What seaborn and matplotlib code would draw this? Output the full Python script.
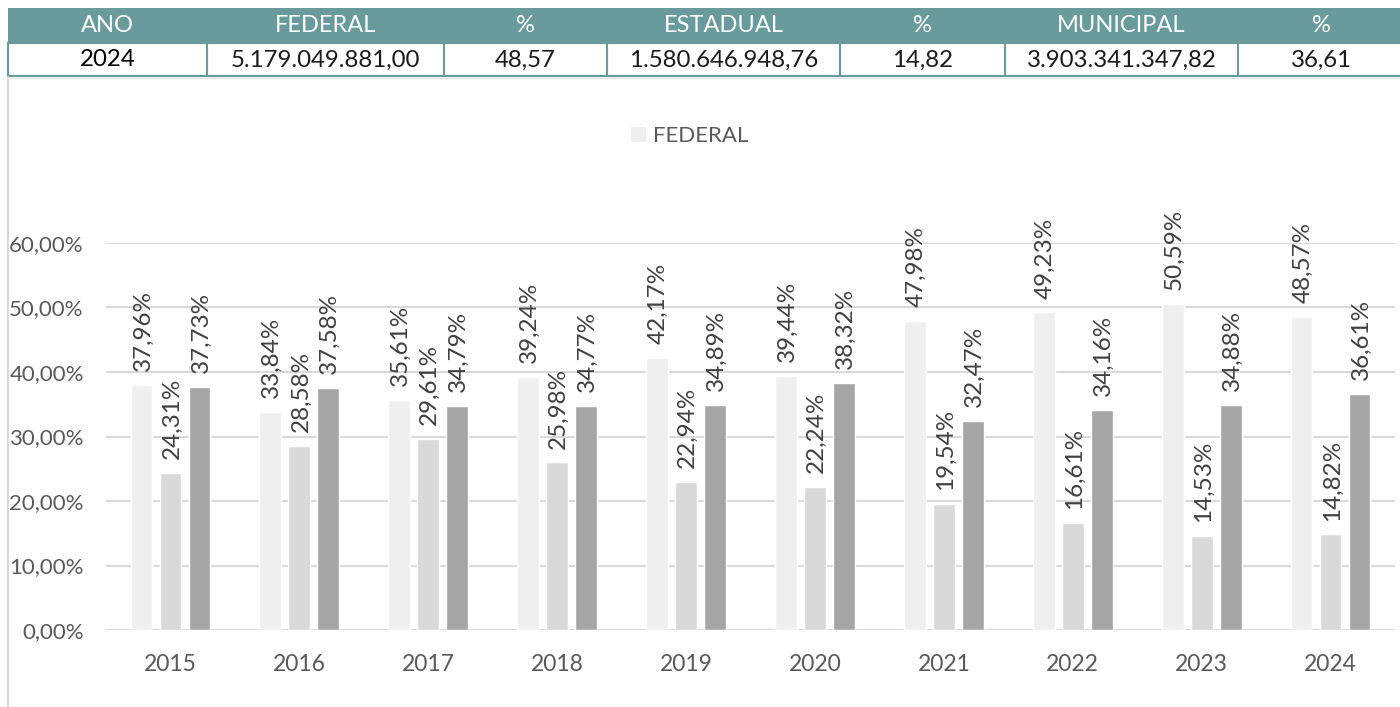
import numpy as np
import pandas as pd
import matplotlib
matplotlib.use("Agg")
import matplotlib.pyplot as plt
from matplotlib.patches import Rectangle, Patch
from matplotlib.lines import Line2D
from matplotlib.ticker import FuncFormatter, MultipleLocator
import seaborn as sns

sns.set_theme(style="white")
plt.rcParams['font.family'] = ['Lato', 'DejaVu Sans']

# Data
anos = ['2015', '2016', '2017', '2018', '2019', '2020', '2021', '2022', '2023', '2024']
federal = [37.96, 33.84, 35.61, 39.24, 42.17, 39.44, 47.98, 49.23, 50.59, 48.57]
estadual = [24.31, 28.58, 29.61, 25.98, 22.94, 22.24, 19.54, 16.61, 14.53, 14.82]
municipal = [37.73, 37.58, 34.79, 34.77, 34.89, 38.32, 32.47, 34.16, 34.88, 36.61]
esferas = ['FEDERAL', 'ESTADUAL', 'MUNICIPAL']
cores = ['#efefef', '#d9d9d9', '#a5a5a5']

tab_header = ['ANO', 'FEDERAL', '%', 'ESTADUAL', '%', 'MUNICIPAL', '%']
tab_row = ['2024', '5.179.049.881,00', '48,57', '1.580.646.948,76', '14,82',
           '3.903.341.347,82', '36,61']

df = pd.DataFrame({
    'ano': anos * 3,
    'esfera': [e for e in esferas for _ in anos],
    'valor': np.array(federal + estadual + municipal) / 100,
})

W, H = 1400, 707
fig = plt.figure(figsize=(W / 100, H / 100), dpi=100)
ax = fig.add_axes([106 / W, (H - 630) / H, (1395 - 106) / W, (630 - 243) / H])

sns.barplot(data=df, x='ano', y='valor', hue='esfera', hue_order=esferas,
            palette=cores, saturation=1, width=0.675, gap=0.25,
            legend=False, ax=ax, errorbar=None, zorder=3)

ax.set_ylim(0, 0.6)
ax.set_xlim(-0.5, 9.5)
ax.yaxis.set_major_locator(MultipleLocator(0.1))
ax.yaxis.set_major_formatter(FuncFormatter(lambda y, p: f"{y*100:.2f}%".replace('.', ',')))
ax.grid(axis='y', color='#d9d9d9', linewidth=1.5, zorder=0)
ax.set_axisbelow(True)
for s in ax.spines.values():
    s.set_visible(False)
ax.set_xlabel('')
ax.set_ylabel('')
ax.tick_params(axis='y', labelsize=16, labelcolor='#595959', length=0, pad=16)
ax.tick_params(axis='x', labelsize=16.5, labelcolor='#595959', length=0, pad=17)
ax.patch.set_alpha(0)

# data labels
for cont in ax.containers:
    for bar in cont:
        v = bar.get_height()
        ax.annotate(f"{v*100:.2f}%".replace('.', ','),
                    (bar.get_x() + bar.get_width() / 2, v),
                    xytext=(1, 10), textcoords='offset points',
                    rotation=90, ha='center', va='bottom',
                    fontsize=17.5, color='#404040', annotation_clip=False)

fig.legend(handles=[Patch(facecolor=cores[0], edgecolor='none')], labels=['FEDERAL'],
           loc='center', bbox_to_anchor=(690 / W, 1 - 136 / H), frameon=False,
           fontsize=16, labelcolor='#595959', handlelength=0.65, handleheight=0.65,
           handletextpad=0.35)

# table + chart frame on an overlay in pixel coordinates
ov = fig.add_axes([0, 0, 1, 1], zorder=5)
ov.set_xlim(0, W)
ov.set_ylim(H, 0)
ov.axis('off')
ov.patch.set_alpha(0)

teal = '#699b9c'
bounds = [8, 207, 444, 607, 840, 1005, 1238, 1405]
ov.add_line(Line2D([8, 8], [77, H], color='#d9d9d9', lw=1.5))
ov.add_line(Line2D([8, W], [77.5, 77.5], color='#e6e6e6', lw=1))
ov.add_patch(Rectangle((8, 8), 1397, 35, facecolor=teal, edgecolor='none'))
ov.add_patch(Rectangle((8, 43), 1397, 33, facecolor='white', edgecolor=teal, lw=1.5))
for i in range(len(tab_header)):
    x0, x1 = bounds[i], bounds[i + 1]
    if i > 0:
        ov.add_line(Line2D([x0, x0], [43, 76], color=teal, lw=1.5))
    xc = (x0 + x1) / 2
    ov.text(xc, 26, tab_header[i], ha='center', va='center', color='white', fontsize=17)
    ov.text(xc, 60, tab_row[i], ha='center', va='center', color='black' if i == 0 else '#1a1a1a',
            fontsize=17.3)

fig.savefig('out.png', dpi=100, facecolor='white')
